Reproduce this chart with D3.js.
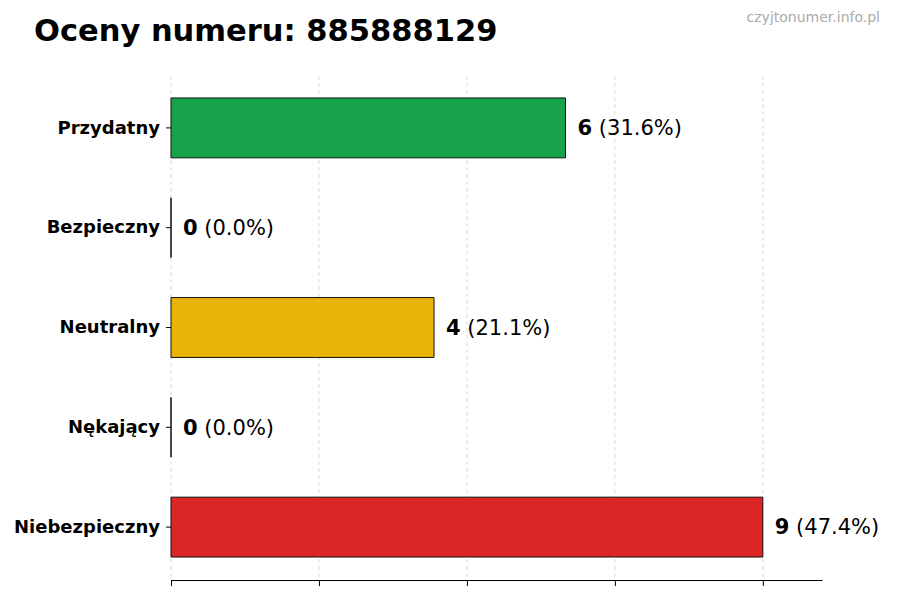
<!DOCTYPE html>
<html>
<head>
<meta charset="utf-8">
<script src="https://cdn.jsdelivr.net/npm/d3@7"></script>
<style>
body { margin: 0; background: #fff; }
svg { display: block; font-family: "DejaVu Sans", sans-serif; }
</style>
</head>
<body>
<svg id="chart" width="900" height="600"></svg>
<script>
const categories = ["Przydatny", "Bezpieczny", "Neutralny", "Nękający", "Niebezpieczny"];
const counts = [6, 0, 4, 0, 9];
const percents = ["31.6%", "0.0%", "21.1%", "0.0%", "47.4%"];
const colors = ["#16a34a", "#16a34a", "#eab308", "#dc2626", "#dc2626"];
const xTicks = [0, 2.25, 4.5, 6.75, 9];
const xMax = 9.9;
const title = "Oceny numeru: 885888129";
const watermark = "czyjtonumer.info.pl";

(function () {
const svg = d3.select("#chart");
const mLeft = 171, mRight = 822, mTop = 75, mBottom = 580;

const x = d3.scaleLinear().domain([0, xMax]).range([mLeft, mRight]);
const y = d3.scaleBand().domain(categories).range([mTop, mBottom])
  .paddingInner(0.4).paddingOuter(0.23);

// grid
svg.append("g").selectAll("line").data(xTicks).join("line")
  .attr("x1", d => x(d)).attr("x2", d => x(d))
  .attr("y1", 76).attr("y2", mBottom)
  .attr("stroke", "#d0d0d0").attr("stroke-width", 0.8)
  .attr("stroke-dasharray", "4,3");

// bars (as paths so zero-length bars still show their outline)
svg.append("g").selectAll("path").data(categories).join("path")
  .attr("d", (d, i) => {
    const x0 = x(0), x1 = x(counts[i]), y0 = y(d), y1 = y(d) + y.bandwidth();
    return `M${x0},${y0}H${x1}V${y1}H${x0}Z`;
  })
  .attr("fill", (d, i) => colors[i])
  .attr("stroke", "#111").attr("stroke-width", 1);

// x axis
const xAxis = d3.axisBottom(x).tickValues(xTicks).tickFormat("").tickSize(6).tickSizeOuter(0);
const gx = svg.append("g").attr("transform", `translate(0,${mBottom})`).call(xAxis);
gx.select(".domain").attr("stroke", "#000").attr("stroke-width", 1);
gx.selectAll(".tick line").attr("stroke", "#000");

// y axis
const yAxis = d3.axisLeft(y).tickSize(5).tickSizeOuter(0).tickPadding(6);
const gy = svg.append("g").attr("transform", `translate(${mLeft},0)`).call(yAxis);
gy.select(".domain").remove();
gy.selectAll(".tick line").attr("stroke", "#000");
gy.selectAll(".tick text")
  .attr("font-family", "DejaVu Sans").attr("font-weight", "bold")
  .attr("font-size", 18).attr("fill", "#000");

// value labels
const lab = svg.append("g").selectAll("text").data(categories).join("text")
  .attr("x", (d, i) => x(counts[i]) + 12)
  .attr("y", d => y(d) + y.bandwidth() / 2)
  .attr("dy", "0.35em")
  .attr("font-size", 21)
  .attr("fill", "#000");
lab.append("tspan").attr("font-weight", "bold").text((d, i) => counts[i]);
lab.append("tspan").text((d, i) => " (" + percents[i] + ")");

// title
svg.append("text").attr("x", 34).attr("y", 41)
  .attr("font-size", 30.5).attr("font-weight", "bold").attr("fill", "#000")
  .text(title);

svg.append("text").attr("x", 880).attr("y", 22).attr("text-anchor", "end")
  .attr("font-size", 14).attr("fill", "#aaaaaa")
  .text(watermark);
})();
</script>
</body>
</html>
